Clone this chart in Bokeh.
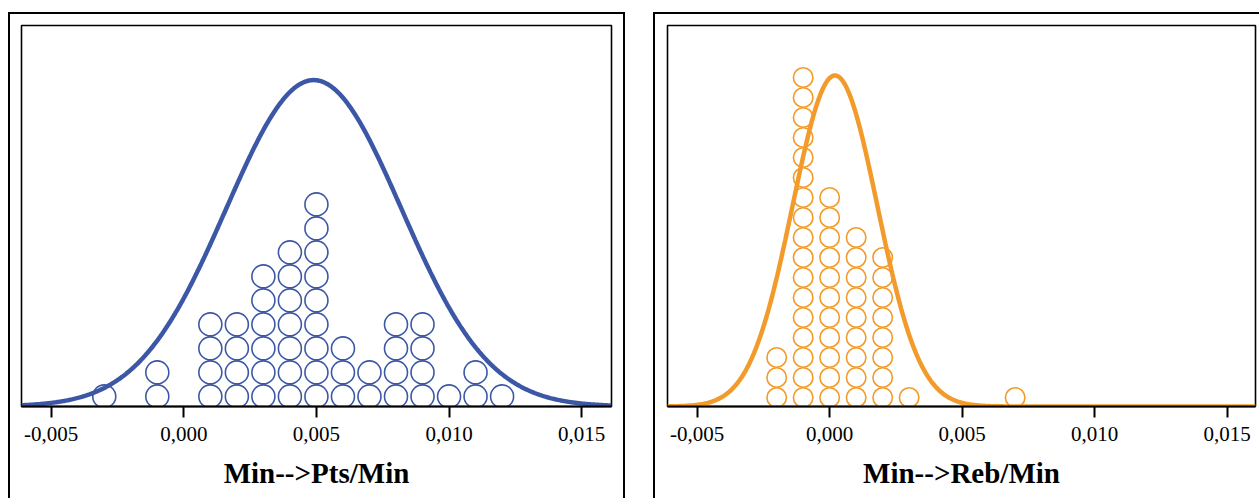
import numpy as np
from bokeh.plotting import figure
from bokeh.layouts import row
from bokeh.models import Range1d, FixedTicker, ColumnDataSource
from bokeh.embed import file_html
from bokeh.resources import INLINE

# ---- data ----
pts_bins = [-0.003, -0.001, 0.001, 0.002, 0.003, 0.004, 0.005, 0.006,
            0.007, 0.008, 0.009, 0.010, 0.011, 0.012]
pts_counts = [1, 2, 4, 4, 6, 7, 9, 3, 2, 4, 4, 1, 2, 1]

reb_bins = [-0.002, -0.001, 0.000, 0.001, 0.002, 0.003, 0.007]
reb_counts = [3, 17, 11, 9, 8, 1, 1]

# fitted normal curves (mean, sd, peak height in dot rows)
pts_mean, pts_sd, pts_peak = 0.0049, 0.0033, 13.6
reb_mean, reb_sd, reb_peak = 0.0002, 0.0016, 16.55

tick_values = [-0.005, 0.0, 0.005, 0.010, 0.015]
tick_labels = ["-0,005", "0,000", "0,005", "0,010", "0,015"]

titles = ["Min-->Pts/Min", "Min-->Reb/Min"]
colors = ["#3b57a6", "#f29b2a"]


def make_panel(bins, counts, mean, sd, peak, color, label,
               x_start, x_end, y_end, dot_size, base, width, mbl, mbr, borders, margin):
    p = figure(width=width, height=486, output_backend="svg", toolbar_location=None,
               x_range=Range1d(x_start, x_end), y_range=Range1d(0, y_end),
               y_axis_location=None, min_border_left=mbl, min_border_right=mbr,
               min_border_top=11, min_border_bottom=94, margin=margin)
    p.xgrid.visible = False
    p.ygrid.visible = False
    p.background_fill_color = "white"
    p.border_fill_color = "white"
    p.outline_line_color = "black"
    p.outline_line_width = 1.6
    p.outline_line_alpha = 1.0

    xs, ys = [], []
    for b, c in zip(bins, counts):
        for k in range(c):
            xs.append(b)
            ys.append(k + base)
    src = ColumnDataSource(dict(x=xs, y=ys))
    p.scatter("x", "y", source=src, marker="circle", size=dot_size,
              fill_alpha=0, line_color=color, line_width=1.6)

    cx = np.linspace(x_start, x_end, 600)
    cy = peak * np.exp(-0.5 * ((cx - mean) / sd) ** 2)
    p.line(cx, cy, line_color=color, line_width=4.5)

    ax = p.xaxis[0]
    ax.ticker = FixedTicker(ticks=tick_values, minor_ticks=[])
    ax.major_label_overrides = {v: l for v, l in zip(tick_values, tick_labels)}
    ax.axis_line_color = "black"
    ax.axis_line_width = 2
    ax.major_tick_line_color = "black"
    ax.major_tick_line_width = 2
    ax.major_tick_out = 11
    ax.major_tick_in = 0
    ax.minor_tick_out = 0
    ax.minor_tick_in = 0
    ax.major_label_standoff = 9
    ax.major_label_text_font = "Liberation Serif"
    ax.major_label_text_font_size = "21px"
    ax.major_label_text_color = "black"
    ax.axis_label = label
    ax.axis_label_text_font = "Liberation Serif"
    ax.axis_label_text_font_size = "29px"
    ax.axis_label_text_font_style = "bold"
    ax.axis_label_text_color = "black"
    ax.axis_label_standoff = 13
    p.styles = borders
    return p


p1 = make_panel(pts_bins, pts_counts, pts_mean, pts_sd, pts_peak, colors[0], titles[0],
                -0.00612, 0.016125, 381 / 24, 23, 0.42, 617, 11, 16,
                {"border-top": "2px solid black", "border-left": "2px solid black",
                 "border-right": "2px solid black"},
                (12, 0, 0, 8))
p2 = make_panel(reb_bins, reb_counts, reb_mean, reb_sd, reb_peak, colors[1], titles[1],
                -0.00612, 0.01607, 381 / 20, 19.5, 0.45, 606, 12, 6,
                {"border-top": "2px solid black", "border-left": "2px solid black"},
                (12, 0, 0, 28))

layout = row(p1, p2)
open("out.html", "w").write(file_html(layout, INLINE))
